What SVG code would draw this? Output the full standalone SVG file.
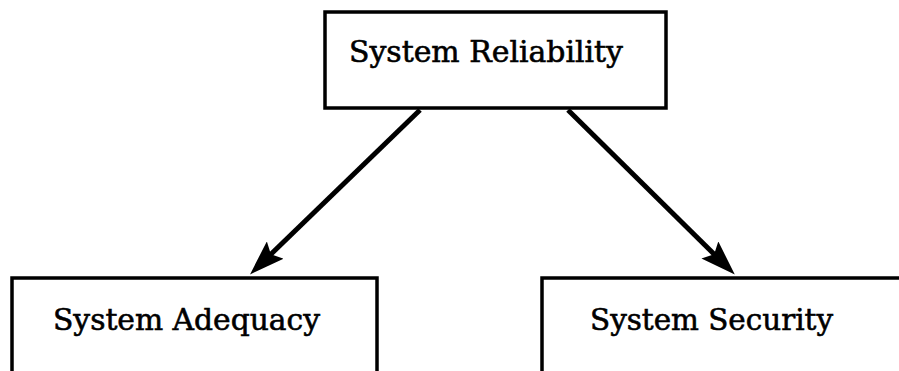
<svg xmlns="http://www.w3.org/2000/svg" width="899" height="371" viewBox="0 0 899 371">
<style>
.box{fill:#fff;stroke:#000;stroke-width:3.5}
.lbl{font-family:"DejaVu Serif","Liberation Serif",serif;font-size:30px;fill:#000;stroke:#000;stroke-width:0.6}
.conn{stroke:#000;stroke-width:5;fill:none}
</style>
<defs>
<marker id="ah" viewBox="0 0 35 24" refX="10" refY="12" markerWidth="35" markerHeight="24" orient="auto" markerUnits="userSpaceOnUse">
<path d="M0,0 L35,12 L0,24 L6,12 z" fill="#000"/>
</marker>
</defs>
<rect width="899" height="371" fill="#fff"/>
<g id="connectors">
<path class="conn" d="M420,110 L268,257" marker-end="url(#ah)"/>
<path class="conn" d="M568,110 L717,257" marker-end="url(#ah)"/>
</g>
<g id="node-reliability">
<rect class="box" x="325" y="12" width="341" height="96"/>
<text class="lbl" x="349" y="62" textLength="274" lengthAdjust="spacingAndGlyphs">System Reliability</text>
</g>
<g id="node-adequacy">
<rect class="box" x="12" y="278" width="365" height="110"/>
<text class="lbl" x="53" y="330" textLength="267" lengthAdjust="spacingAndGlyphs">System Adequacy</text>
</g>
<g id="node-security">
<rect class="box" x="542" y="278" width="400" height="110"/>
<text class="lbl" x="590" y="330" textLength="243" lengthAdjust="spacingAndGlyphs">System Security</text>
</g>
</svg>
